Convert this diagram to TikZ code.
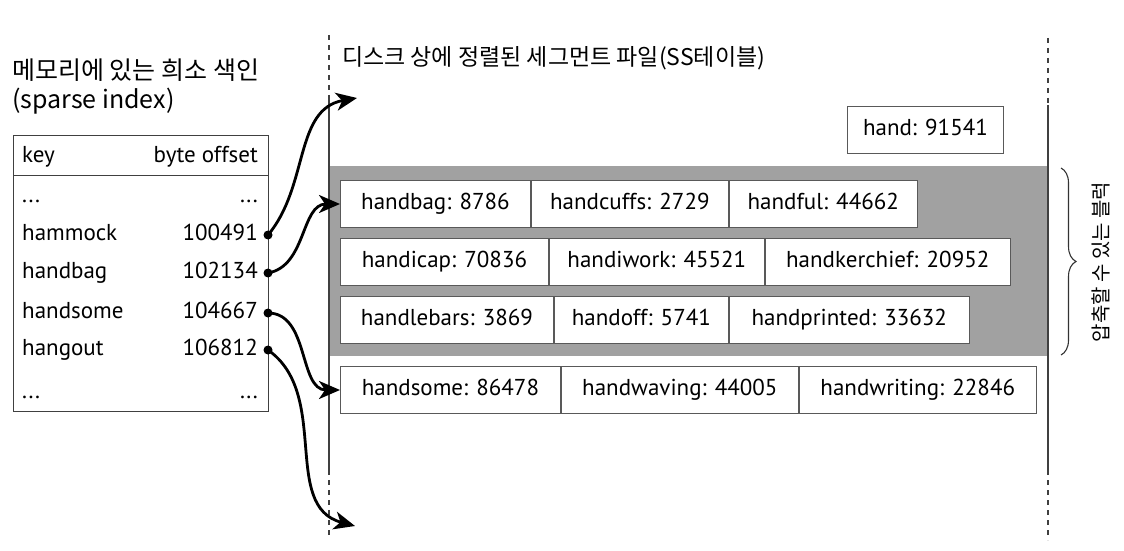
\documentclass[tikz,border=0pt]{standalone}
\usepackage{fontspec}
\setmainfont{PT Sans}
\newfontfamily\kofont{Noto Sans CJK KR}
\usetikzlibrary{arrows.meta,positioning,decorations.pathreplacing}
\newcommand\moredots{\leavevmode\leaders\hbox to 8pt{\hss.\hss}\hskip 72pt\relax}

\begin{document}
\begin{tikzpicture}[
  x=1pt, y=1pt,
  node distance=0pt,
  cell/.style={draw=black!65, line width=0.9pt, fill=white, minimum height=47pt,
    inner sep=0pt, text height=16pt, text depth=5pt, font=\fontsize{23}{26}\selectfont},
  lbl/.style={font=\kofont\fontsize{23}{27}\selectfont, inner sep=0pt},
  txt/.style={font=\fontsize{23}{26}\selectfont, inner sep=0pt},
  dot/.style={circle, fill=black, inner sep=0pt, minimum size=9pt},
  arr/.style={-{Stealth[length=21pt,width=18pt,inset=6pt]}, line width=2.8pt},
  divider/.style={line width=1.4pt, black!75},
  dashdiv/.style={divider, dash pattern=on 5pt off 5pt}
]
\useasboundingbox (0,0) rectangle (1124,550);

% compressible blocks
\fill[black!37] (329,194) rectangle (1048,384);

% segment file borders
\draw[dashdiv] (329,515) -- (329,450);
\draw[divider] (329,450) -- (329,80);
\draw[dashdiv] (329,80) -- (329,15);
\draw[dashdiv] (1048,512) -- (1048,445);
\draw[divider] (1048,445) -- (1048,80);
\draw[dashdiv] (1048,80) -- (1048,10);

% labels
\node[lbl, font=\kofont\fontsize{25}{29}\selectfont, anchor=west] (memlbl) at (12,480) {메모리에 있는 희소 색인};
\node[lbl, font=\kofont\fontsize{25}{29}\selectfont, anchor=west] (sparselbl) at (12,449) {(sparse index)};
\node[lbl, anchor=west] (disklbl) at (342,492) {디스크 상에 정렬된 세그먼트 파일(SS테이블)};

% sparse index table
\node[draw=black!75, line width=1pt, minimum width=255pt, minimum height=276pt,
  anchor=north west, inner sep=0pt] (index) at (13,415) {};
\draw[black!75, line width=1pt] ([yshift=-40pt]index.north west) -- ([yshift=-40pt]index.north east);
\node[txt, anchor=base west] (keyhd) at (22,388) {key};
\node[txt, anchor=base east] (offhd) at (258,388) {byte offset};
\node[txt, anchor=base west] (k0) at (22,348) {...};
\node[txt, anchor=base east] (v0) at (258,348) {...};
\node[txt, anchor=base west] (k1) at (22,310) {hammock};
\node[txt, anchor=base east] (v1) at (258,310) {100491};
\node[txt, anchor=base west] (k2) at (22,272) {handbag};
\node[txt, anchor=base east] (v2) at (258,272) {102134};
\node[txt, anchor=base west] (k3) at (22,232) {handsome};
\node[txt, anchor=base east] (v3) at (258,232) {104667};
\node[txt, anchor=base west] (k4) at (22,195) {hangout};
\node[txt, anchor=base east] (v4) at (258,195) {106812};
\node[txt, anchor=base west] (k5) at (22,152) {...};
\node[txt, anchor=base east] (v5) at (258,152) {...};

\node[dot] (d1) at (268,315) {};
\node[dot] (d2) at (268,277) {};
\node[dot] (d3) at (268,237) {};
\node[dot] (d4) at (268,200) {};

% segment entries
\node[cell, minimum width=156pt, anchor=west] (hand) at (847,420) {hand: 91541};
\node[txt, anchor=east] (dotsa) at (830,414) {\moredots};

\node[cell, minimum width=190pt, anchor=west] (bag) at (340,346) {handbag: 8786};
\node[cell, minimum width=197pt, right=of bag] (cuffs) {handcuffs: 2729};
\node[cell, minimum width=188pt, right=of cuffs] (ful) {handful: 44662};

\node[cell, minimum width=208pt, below=10pt of bag.south west, anchor=north west] (cap) {handicap: 70836};
\node[cell, minimum width=215pt, right=of cap] (work) {handiwork: 45521};
\node[cell, minimum width=245pt, right=of work] (chief) {handkerchief: 20952};

\node[cell, minimum width=213pt, below=10pt of cap.south west, anchor=north west] (bars) {handlebars: 3869};
\node[cell, minimum width=174pt, right=of bars] (off) {handoff: 5741};
\node[cell, minimum width=240pt, right=of off] (printed) {handprinted: 33632};

\node[cell, minimum width=220pt, anchor=west] (some) at (340,160) {handsome: 86478};
\node[cell, minimum width=237pt, right=of some] (waving) {handwaving: 44005};
\node[cell, minimum width=237pt, right=of waving] (writing) {handwriting: 22846};

\node[txt, anchor=west] (dotsb) at (358,102) {\moredots};

% compressible block brace
\draw[decorate, decoration={brace, amplitude=15pt}, line width=1.1pt, black!80] (1061,382) -- (1061,195);
\node[lbl, font=\kofont\fontsize{20}{24}\selectfont, rotate=90] (blocklbl) at (1101,288) {압축할 수 있는 블럭};

% index pointers
\coordinate (segtop) at (357,452);
\coordinate (segend) at (355,24);
\draw[arr] (d1.center) to[out=50, in=190] (segtop);
\draw[arr] (d2.center) to[out=10, in=180] (bag.west);
\draw[arr] (d3.center) to[out=0, in=180] (some.west);
\draw[arr] (d4.center) to[out=-35, in=165] (segend);
\end{tikzpicture}
\end{document}
